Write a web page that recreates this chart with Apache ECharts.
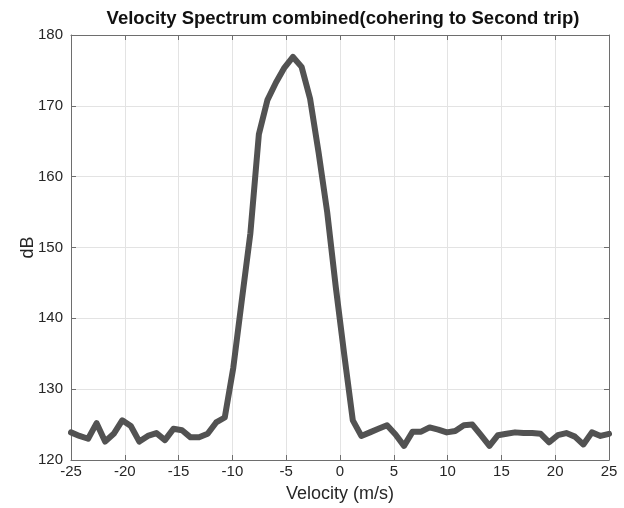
<!DOCTYPE html>
<html>
<head>
<meta charset="utf-8">
<script src="https://cdn.jsdelivr.net/npm/echarts@6/dist/echarts.min.js"></script>
<style>
  html, body { margin: 0; padding: 0; background: #fff; }
  #chart { width: 624px; height: 508px; }
</style>
</head>
<body>
<div id="chart"></div>
<script>
// velocity bins (m/s), 64 points from -25 to 25
var velocity = [
  -25.00, -24.21, -23.41, -22.62, -21.83, -21.03, -20.24, -19.44,
  -18.65, -17.86, -17.06, -16.27, -15.48, -14.68, -13.89, -13.10,
  -12.30, -11.51, -10.71, -9.92, -9.13, -8.33, -7.54, -6.75,
  -5.95, -5.16, -4.37, -3.57, -2.78, -1.98, -1.19, -0.40,
  0.40, 1.19, 1.98, 2.78, 3.57, 4.37, 5.16, 5.95,
  6.75, 7.54, 8.33, 9.13, 9.92, 10.71, 11.51, 12.30,
  13.10, 13.89, 14.68, 15.48, 16.27, 17.06, 17.86, 18.65,
  19.44, 20.24, 21.03, 21.83, 22.62, 23.41, 24.21, 25.00
];
// spectrum (dB)
var power = [
  123.9, 123.4, 123.0, 125.2, 122.6, 123.7, 125.6, 124.8,
  122.6, 123.4, 123.8, 122.8, 124.4, 124.2, 123.2, 123.2,
  123.7, 125.3, 126.0, 133.0, 142.5, 152.0, 166.0, 170.8,
  173.3, 175.4, 176.9, 175.5, 171.0, 163.3, 155.0, 144.5,
  134.8, 125.6, 123.4, 123.9, 124.4, 124.9, 123.6, 122.0,
  124.0, 124.0, 124.6, 124.3, 123.9, 124.1, 124.9, 125.0,
  123.5, 122.0, 123.5, 123.7, 123.9, 123.8, 123.8, 123.7,
  122.5, 123.5, 123.8, 123.3, 122.2, 123.9, 123.4, 123.7
];

var font = 'Liberation Sans, Arial, Helvetica, sans-serif';
var axisGray = '#6e6e6e';
var textColor = '#262626';

var chart = echarts.init(document.getElementById('chart'), null, { renderer: 'canvas' });

var xCommon = {
  type: 'value', min: -25, max: 25, interval: 5,
  axisLine: { show: true, onZero: false, lineStyle: { color: axisGray, width: 1 } },
  axisTick: { show: true, inside: true, length: 5, lineStyle: { color: axisGray } }
};
var yCommon = {
  type: 'value', min: 120, max: 180, interval: 10,
  axisLine: { show: true, onZero: false, lineStyle: { color: axisGray, width: 1 } },
  axisTick: { show: true, inside: true, length: 5, lineStyle: { color: axisGray } }
};

var option = {
  animation: false,
  backgroundColor: '#fff',
  title: {
    text: 'Velocity Spectrum combined(cohering to Second trip)',
    left: 338, top: 4, textAlign: 'center',
    textStyle: { fontFamily: font, fontSize: 18.5, fontWeight: 'bold', color: '#111' }
  },
  grid: { left: 71, right: 15, top: 35, bottom: 48, containLabel: false },
  xAxis: [
    Object.assign({}, xCommon, {
      position: 'bottom',
      name: 'Velocity (m/s)', nameLocation: 'middle', nameGap: 25, nameMoveOverlap: false,
      nameTextStyle: { fontFamily: font, fontSize: 18, color: textColor },
      axisLabel: { fontFamily: font, fontSize: 15, color: textColor, margin: 4 },
      splitLine: { show: true, lineStyle: { color: '#e3e3e3', width: 1 } }
    }),
    Object.assign({}, xCommon, {
      position: 'top',
      axisLabel: { show: false },
      splitLine: { show: false }
    })
  ],
  yAxis: [
    Object.assign({}, yCommon, {
      position: 'left',
      name: 'dB', nameLocation: 'middle', nameGap: 34, nameRotate: 90, nameMoveOverlap: false,
      nameTextStyle: { fontFamily: font, fontSize: 18, color: textColor },
      axisLabel: { fontFamily: font, fontSize: 15, color: textColor, margin: 8 },
      splitLine: { show: true, lineStyle: { color: '#e3e3e3', width: 1 } }
    }),
    Object.assign({}, yCommon, {
      position: 'right',
      axisLabel: { show: false },
      splitLine: { show: false }
    })
  ],
  series: [{
    type: 'line',
    xAxisIndex: 0, yAxisIndex: 0,
    data: velocity.map(function (v, i) { return [v, power[i]]; }),
    showSymbol: false,
    lineStyle: { color: '#525252', width: 6, join: 'round', cap: 'round' },
    z: 3
  }]
};

chart.setOption(option);
</script>
</body>
</html>
